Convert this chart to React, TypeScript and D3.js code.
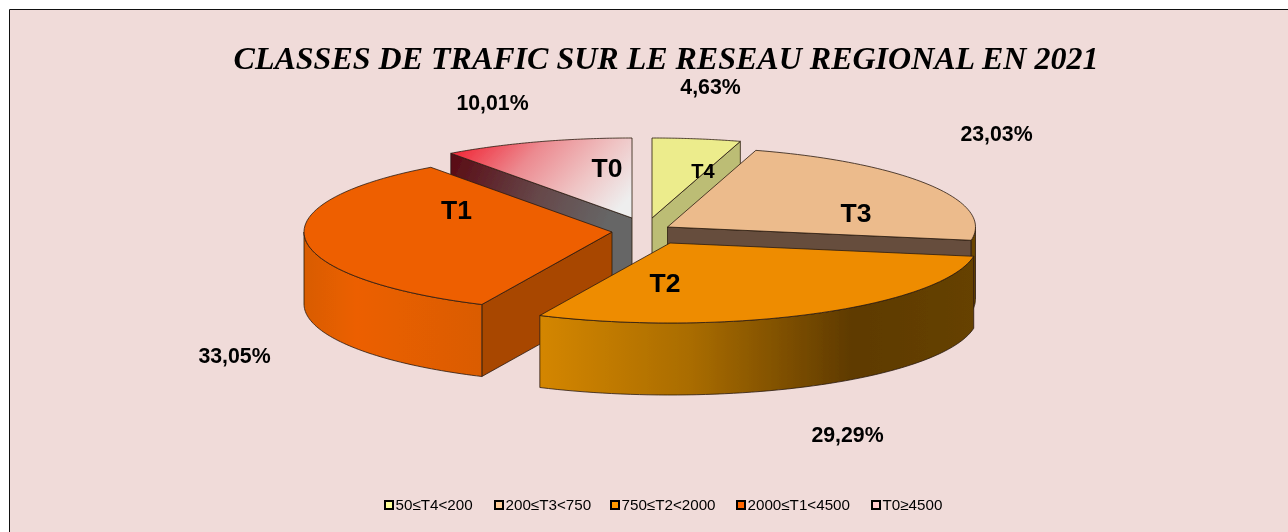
import React from "react";
import * as d3 from "d3";

const titleText = "CLASSES DE TRAFIC SUR LE RESEAU REGIONAL EN 2021";
const classes = ["T4", "T3", "T2", "T1", "T0"];
const shares = [4.63, 23.03, 29.29, 33.05, 10.01];
const shareLabels = ["4,63%", "23,03%", "29,29%", "33,05%", "10,01%"];
const legendLabels = ["50≤T4<200", "200≤T3<750", "750≤T2<2000", "2000≤T1<4500", "T0≥4500"];

// styling / layout, by class
const apexX = [652, 667.5, 670, 612, 632];
const apexY = [218, 227, 243, 232, 218];
const topFill = ["#ecec8c", "#ecbb8c", "#ee8c00", "#ee5f00", "url(#t0top)"];
const sideFill = ["#bcbd74", "#664e3c", "#000", "#a84600", "url(#t0side)"];
const rimFill = ["#ecec8c", "#6a4400", "url(#t2rim)", "url(#t1rim)", "#888"];
const legendFill = ["#ffff99", "#ffcc99", "#ff9900", "#ff6600", "#ffcccc"];
const legendX = [384, 494, 610, 736, 871];
const classLabelX = [703, 856, 665, 456.5, 607];
const classLabelY = [170.5, 212, 282, 209, 167];
const classLabelSize = [20, 26.5, 26.5, 26.5, 26.5];
const shareX = [711, 997, 848, 235, 493];
const shareY = [86.5, 133.5, 434.5, 355.5, 102.5];
const drawOrder = [4, 0, 1, 3, 2];

const RX = 308;
const RY = 80;
const DEPTH = 72;
const LINE = "#2a1a10";

const px = (cx: number, a: number) => cx + RX * Math.sin(a);
const py = (cy: number, a: number) => cy - RY * Math.cos(a);

function wedgePath(cx: number, cy: number, a0: number, a1: number) {
  const p = d3.path();
  p.moveTo(cx, cy);
  p.lineTo(px(cx, a0), py(cy, a0));
  const n = 60;
  for (let i = 1; i <= n; i++) {
    const a = a0 + ((a1 - a0) * i) / n;
    p.lineTo(px(cx, a), py(cy, a));
  }
  p.closePath();
  return p.toString();
}

function rimPath(cx: number, cy: number, a0: number, a1: number) {
  // outer wall: only the part of the arc that faces the viewer (90deg..270deg)
  const s = Math.max(a0, Math.PI / 2);
  const e = Math.min(a1, (3 * Math.PI) / 2);
  if (e <= s) return null;
  const p = d3.path();
  const n = 60;
  p.moveTo(px(cx, s), py(cy, s));
  for (let i = 1; i <= n; i++) {
    const a = s + ((e - s) * i) / n;
    p.lineTo(px(cx, a), py(cy, a));
  }
  for (let i = n; i >= 0; i--) {
    const a = s + ((e - s) * i) / n;
    p.lineTo(px(cx, a), py(cy, a) + DEPTH);
  }
  p.closePath();
  return p.toString();
}

function sidePath(cx: number, cy: number, a: number) {
  const p = d3.path();
  p.moveTo(cx, cy);
  p.lineTo(px(cx, a), py(cy, a));
  p.lineTo(px(cx, a), py(cy, a) + DEPTH);
  p.lineTo(cx, cy + DEPTH);
  p.closePath();
  return p.toString();
}

export default function App() {
  const arcs = d3
    .pie<number>()
    .sort(null)
    .value((d) => d)(shares);

  return (
    <svg
      width={1288}
      height={532}
      style={{ position: "absolute", left: 0, top: 0, display: "block" }}
    >
      <defs>
        <filter id="soft" x="0" y="0" width="1288" height="532" filterUnits="userSpaceOnUse">
          <feGaussianBlur stdDeviation="0.45" />
        </filter>
        <linearGradient id="t0top" gradientUnits="userSpaceOnUse" x1={485} y1={125} x2={600} y2={230}>
          <stop offset="0" stopColor="#f0303f" />
          <stop offset="0.35" stopColor="#ec8a90" />
          <stop offset="0.7" stopColor="#efc4c4" />
          <stop offset="1" stopColor="#eeeeee" />
        </linearGradient>
        <linearGradient id="t0side" gradientUnits="userSpaceOnUse" x1={450} y1={180} x2={600} y2={240}>
          <stop offset="0" stopColor="#5a0f18" />
          <stop offset="0.55" stopColor="#66484a" />
          <stop offset="1" stopColor="#666666" />
        </linearGradient>
        <linearGradient id="t2rim" gradientUnits="userSpaceOnUse" x1={540} y1={0} x2={975} y2={0}>
          <stop offset="0" stopColor="#d48600" />
          <stop offset="0.35" stopColor="#a96c00" />
          <stop offset="0.72" stopColor="#5e3a00" />
          <stop offset="1" stopColor="#664200" />
        </linearGradient>
        <linearGradient id="t1rim" gradientUnits="userSpaceOnUse" x1={303} y1={0} x2={482} y2={0}>
          <stop offset="0" stopColor="#d85c00" />
          <stop offset="0.3" stopColor="#ec5f00" />
          <stop offset="1" stopColor="#da5c00" />
        </linearGradient>
      </defs>

      <rect x={0} y={0} width={1288} height={532} fill="#ffffff" />
      <rect x={10} y={10} width={1278} height={522} fill="#f0dbd9" />
      <path d="M9.5,532V9.5H1288" fill="none" stroke="#111" strokeWidth={1} />

      <g filter="url(#soft)">
        <text
          x={666}
          y={69}
          textAnchor="middle"
          fontFamily="'Liberation Serif', serif"
          fontStyle="italic"
          fontWeight="bold"
          fontSize={32}
          fill="#000"
        >
          {titleText}
        </text>

        {drawOrder.map((i) => {
          const a = arcs[i];
          const cx = apexX[i];
          const cy = apexY[i];
          const rim = rimPath(cx, cy, a.startAngle, a.endAngle);
          return (
            <g key={classes[i]} stroke={LINE} strokeWidth={0.8} strokeLinejoin="round">
              {i === 0 && <path d={sidePath(cx, cy, a.endAngle)} fill={sideFill[i]} />}
              {i === 1 && <path d={sidePath(cx, cy, a.endAngle)} fill={sideFill[i]} />}
              {i === 3 && <path d={sidePath(cx, cy, a.startAngle)} fill={sideFill[i]} />}
              {i === 4 && <path d={sidePath(cx, cy, a.startAngle)} fill={sideFill[i]} />}
              {rim && <path d={rim} fill={rimFill[i]} />}
              <path d={wedgePath(cx, cy, a.startAngle, a.endAngle)} fill={topFill[i]} />
            </g>
          );
        })}

        <g fontFamily="'Liberation Sans', Arial, sans-serif" fontWeight="bold" fill="#000" textAnchor="middle">
          {classes.map((c, i) => (
            <text key={c} x={classLabelX[i]} y={classLabelY[i] + classLabelSize[i] * 0.36} fontSize={classLabelSize[i]}>
              {c}
            </text>
          ))}
          {shareLabels.map((s, i) => (
            <text key={s} x={shareX[i] - 0.5} y={shareY[i] + 7.5} fontSize={21.3}>
              {s}
            </text>
          ))}
        </g>

        <g fontFamily="'Liberation Sans', Arial, sans-serif" fontSize={15.2} fill="#000">
          {legendLabels.map((l, i) => (
            <g key={l}>
              <rect x={legendX[i] + 1} y={501} width={8} height={8} fill={legendFill[i]} stroke="#000" strokeWidth={2} />
              <text x={legendX[i] + 11.5} y={510}>
                {l}
              </text>
            </g>
          ))}
        </g>
      </g>
    </svg>
  );
}
